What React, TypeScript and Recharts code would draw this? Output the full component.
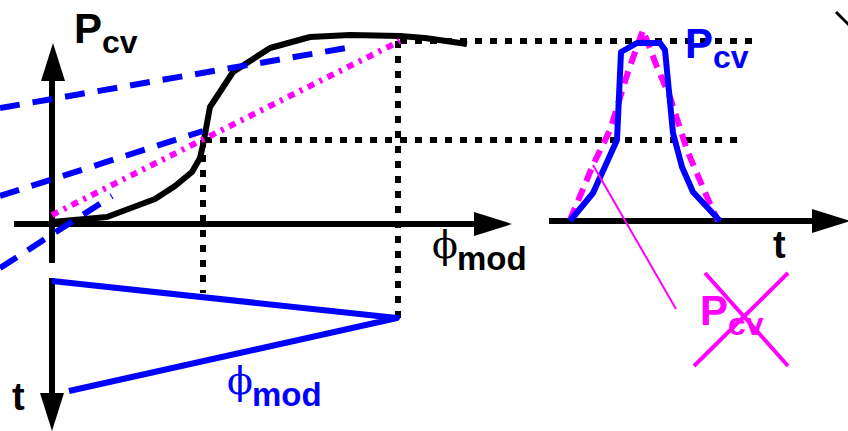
import { ComposedChart, Line, Scatter, XAxis, YAxis } from "recharts";

// picture units: x to the right, y downwards (y axis is reversed)
const BLUE = "#0000ff";
const MAGENTA = "#ff00ff";

// axes
const phiAxis = [{ x: 14, y: 224 }, { x: 480, y: 224 }];
const pcvAxis = [{ x: 52, y: 60 }, { x: 52, y: 263 }];
const timeAxis = [{ x: 52, y: 278 }, { x: 52, y: 400 }];
const pulseTimeAxis = [{ x: 549, y: 221 }, { x: 820, y: 221 }];

const arrowTips = [
  { x: 53, y: 43, dir: "up" },
  { x: 52, y: 431, dir: "down" },
  { x: 512, y: 224, dir: "right" },
  { x: 850, y: 221, dir: "right" },
];

// P_cv(phi_mod) response
const responseCurve = [
  { x: 52, y: 222 },
  { x: 107, y: 217 },
  { x: 155, y: 199 },
  { x: 175, y: 186 },
  { x: 192, y: 172 },
  { x: 200, y: 158 },
  { x: 203, y: 145 },
  { x: 210, y: 107 },
  { x: 233, y: 72 },
  { x: 270, y: 48 },
  { x: 310, y: 37 },
  { x: 350, y: 35 },
  { x: 400, y: 36 },
  { x: 425, y: 38 },
  { x: 467, y: 44 },
];

// tangents (blue dashed)
const tangentHigh = [{ x: 0, y: 108 }, { x: 352, y: 47 }];
const tangentMid = [{ x: 0, y: 196 }, { x: 203, y: 131 }];
const tangentLow = [{ x: 0, y: 268 }, { x: 112, y: 196 }];

// linear response (magenta dash-dot)
const linearResponse = [{ x: 52, y: 215 }, { x: 400, y: 41 }];

// guide lines (black dotted)
const levelHigh = [{ x: 400, y: 41 }, { x: 752, y: 41 }];
const levelLow = [{ x: 205, y: 140 }, { x: 745, y: 140 }];
const dropLow = [{ x: 203, y: 140 }, { x: 203, y: 293 }];
const dropHigh = [{ x: 398, y: 41 }, { x: 398, y: 318 }];

// phi_mod(t) modulation
const modulation = [
  { x: 52, y: 281 },
  { x: 397, y: 318 },
  { x: 69, y: 391 },
];

// P_cv(t) pulses
const pulseReal = [
  { x: 570, y: 221 },
  { x: 593, y: 193 },
  { x: 617, y: 140 },
  { x: 621, y: 52 },
  { x: 637, y: 43 },
  { x: 660, y: 43 },
  { x: 665, y: 50 },
  { x: 673, y: 133 },
  { x: 682, y: 167 },
  { x: 693, y: 192 },
  { x: 720, y: 221 },
];
const pulseLinear = [
  { x: 570, y: 220 },
  { x: 593, y: 165 },
  { x: 610, y: 130 },
  { x: 628, y: 72 },
  { x: 643, y: 30 },
  { x: 657, y: 67 },
  { x: 670, y: 97 },
  { x: 687, y: 150 },
  { x: 707, y: 197 },
  { x: 718, y: 221 },
];

const pointer = [{ x: 593, y: 165 }, { x: 676, y: 309 }];
const crossA = [{ x: 705, y: 273 }, { x: 788, y: 366 }];
const crossB = [{ x: 788, y: 273 }, { x: 694, y: 366 }];
const cornerMark = [{ x: 836, y: 12 }, { x: 850, y: 26 }];

const labels = [
  { x: 74, y: 43, main: "P", sub: "cv", color: "#000", kind: "p" },
  { x: 432, y: 258, main: "ϕ", sub: "mod", color: "#000", kind: "phi" },
  { x: 12, y: 410, main: "t", sub: "", color: "#000", kind: "t" },
  { x: 227, y: 394, main: "ϕ", sub: "mod", color: BLUE, kind: "phi" },
  { x: 685, y: 58, main: "P", sub: "cv", color: BLUE, kind: "p" },
  { x: 773, y: 258, main: "t", sub: "", color: "#000", kind: "t" },
  { x: 700, y: 325, main: "P", sub: "cv", color: MAGENTA, kind: "p" },
];

const SANS = "'Liberation Sans', Arial, sans-serif";
const PHI_FONT = "'DejaVu Serif', serif";

function ArrowHead(props: any) {
  const { cx, cy, payload } = props;
  const len = 38;
  const half = 12;
  let pts = "";
  if (payload.dir === "up") pts = `${cx},${cy} ${cx - half},${cy + len} ${cx + half},${cy + len}`;
  if (payload.dir === "down") pts = `${cx},${cy} ${cx - half},${cy - len} ${cx + half},${cy - len}`;
  if (payload.dir === "right") pts = `${cx},${cy} ${cx - len},${cy - half} ${cx - len},${cy + half}`;
  return <polygon points={pts} fill="#000" />;
}

function Caption(props: any) {
  const { cx, cy, payload } = props;
  const c = payload.color;
  if (payload.kind === "t") {
    return (
      <text x={cx} y={cy} fill={c} fontFamily={SANS} fontWeight="bold" fontSize={38}>
        {payload.main}
      </text>
    );
  }
  if (payload.kind === "phi") {
    return (
      <g>
        <text x={cx} y={cy} fill={c} fontFamily={PHI_FONT} fontWeight="normal" fontSize={38}>
          {payload.main}
        </text>
        <text x={cx + 25} y={cy + 12} fill={c} fontFamily={SANS} fontWeight="bold" fontSize={33}>
          {payload.sub}
        </text>
      </g>
    );
  }
  return (
    <g>
      <text x={cx} y={cy} fill={c} fontFamily={SANS} fontWeight="bold" fontSize={42}>
        {payload.main}
      </text>
      <text x={cx + 28} y={cy + 10} fill={c} fontFamily={SANS} fontWeight="bold" fontSize={32}>
        {payload.sub}
      </text>
    </g>
  );
}

const seg = (data: any[], stroke: string, width: number, dash?: string, key?: string) => (
  <Line
    key={key}
    data={data}
    dataKey="y"
    type="linear"
    stroke={stroke}
    strokeWidth={width}
    strokeDasharray={dash}
    strokeLinejoin="round"
    dot={false}
    activeDot={false}
    legendType="none"
    isAnimationActive={false}
  />
);

export default function App() {
  return (
    <div style={{ width: 848, height: 431, background: "#fff" }}>
      <style>{"body{margin:0}"}</style>
      <ComposedChart width={848} height={431} margin={{ top: 0, right: 0, bottom: 0, left: 0 }}>
        <XAxis type="number" dataKey="x" domain={[0, 848]} hide allowDataOverflow />
        <YAxis type="number" dataKey="y" domain={[0, 431]} reversed hide allowDataOverflow />
        <Scatter data={labels} shape={Caption} isAnimationActive={false} legendType="none" />
        {seg(phiAxis, "#000", 6, undefined, "ax1")}
        {seg(pcvAxis, "#000", 6, undefined, "ax2")}
        {seg(timeAxis, "#000", 6, undefined, "ax3")}
        {seg(pulseTimeAxis, "#000", 6, undefined, "ax4")}
        {seg(levelHigh, "#000", 6, "7 8", "g1")}
        {seg(levelLow, "#000", 6, "7 8", "g2")}
        {seg(dropLow, "#000", 6, "7 8", "g3")}
        {seg(dropHigh, "#000", 6, "7 8", "g4")}
        {seg(responseCurve, "#000", 6, undefined, "curve")}
        {seg(tangentHigh, BLUE, 6, "20 13", "t1")}
        {seg(tangentMid, BLUE, 6, "20 13", "t2")}
        {seg(tangentLow, BLUE, 6, "20 13", "t3")}
        {seg(linearResponse, MAGENTA, 6, "7 6 3 6", "lin")}
        {seg(modulation, BLUE, 6, undefined, "mod")}
        {seg(pulseLinear, MAGENTA, 6, "13 8", "pl")}
        {seg(pulseReal, BLUE, 6, undefined, "pr")}
        {seg(pointer, MAGENTA, 2, undefined, "ptr")}
        {seg(crossA, MAGENTA, 4, undefined, "xa")}
        {seg(crossB, MAGENTA, 4, undefined, "xb")}
        {seg(cornerMark, "#000", 3, undefined, "corner")}
        <Scatter data={arrowTips} shape={ArrowHead} isAnimationActive={false} legendType="none" />
      </ComposedChart>
    </div>
  );
}
